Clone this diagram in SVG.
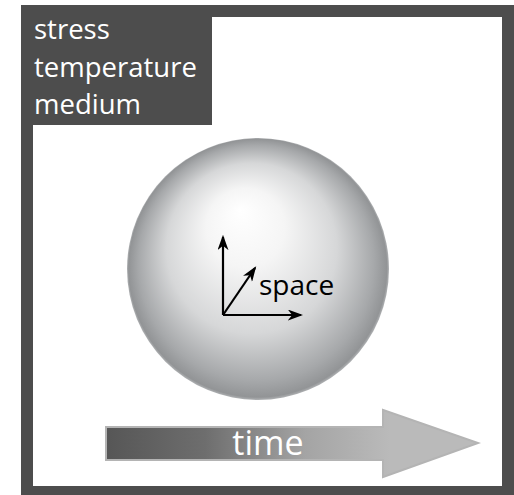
<svg xmlns="http://www.w3.org/2000/svg" width="514" height="495" viewBox="0 0 514 495">
  <defs>
    <radialGradient id="sphereGrad" cx="258" cy="269" r="131" fx="240" fy="210" gradientUnits="userSpaceOnUse">
      <stop offset="0" stop-color="#ffffff"/>
      <stop offset="0.3" stop-color="#f5f5f5"/>
      <stop offset="0.65" stop-color="#d6d7d8"/>
      <stop offset="0.9" stop-color="#a6a8aa"/>
      <stop offset="0.985" stop-color="#929496"/>
      <stop offset="1" stop-color="#b0b2b4"/>
    </radialGradient>
    <linearGradient id="timeGrad" x1="106" y1="0" x2="390" y2="0" gradientUnits="userSpaceOnUse">
      <stop offset="0" stop-color="#565656"/>
      <stop offset="0.35" stop-color="#6e6e6e"/>
      <stop offset="0.7" stop-color="#a4a4a4"/>
      <stop offset="1" stop-color="#bababa"/>
    </linearGradient>
    <marker id="axHead" viewBox="0 0 14 10" refX="12" refY="5" markerWidth="7" markerHeight="5" markerUnits="strokeWidth" orient="auto">
      <path d="M0,0 L14,5 L0,10 L4,5 Z" fill="#000"/>
    </marker>
  </defs>
  <style>
    .frame { fill: #4d4d4d; }
    .lbl { font-family: "Open Sans", "Noto Sans", sans-serif; font-size: 27.5px; fill: #ffffff; }
    .axis { stroke: #000; stroke-width: 2.2; fill: none; marker-end: url(#axHead); }
    .space { font-family: "Open Sans", "Noto Sans", sans-serif; font-size: 28px; fill: #000; }
    .time { font-family: "Open Sans", "Noto Sans", sans-serif; font-size: 34px; fill: #ffffff; }
  </style>
  <rect x="0" y="0" width="514" height="495" fill="#ffffff"/>
  <g id="frame">
    <path class="frame" fill-rule="evenodd" d="M21,5 H514 V495 H21 Z M33,17 V486 H502 V17 Z"/>
  </g>
  <g id="conditions">
    <rect class="frame" x="21" y="5" width="191" height="120"/>
    <text class="lbl" x="34" y="39">stress</text>
    <text class="lbl" x="34" y="77">temperature</text>
    <text class="lbl" x="34" y="114">medium</text>
  </g>
  <g id="sphere">
    <circle cx="258" cy="269" r="131" fill="url(#sphereGrad)"/>
  </g>
  <g id="connectors">
    <line class="axis" x1="223" y1="315" x2="223" y2="237"/>
    <line class="axis" x1="223" y1="315" x2="301" y2="315"/>
    <line class="axis" x1="223" y1="315" x2="255" y2="268"/>
  </g>
  <g id="space-label">
    <text class="space" x="259" y="295">space</text>
  </g>
  <g id="time">
    <path d="M106,427 H383 V410 L478,443 L383,477 V460 H106 Z" fill="url(#timeGrad)" stroke="#b4b4b4" stroke-width="2"/>
    <text class="time" x="268" y="455" text-anchor="middle">time</text>
  </g>
</svg>
